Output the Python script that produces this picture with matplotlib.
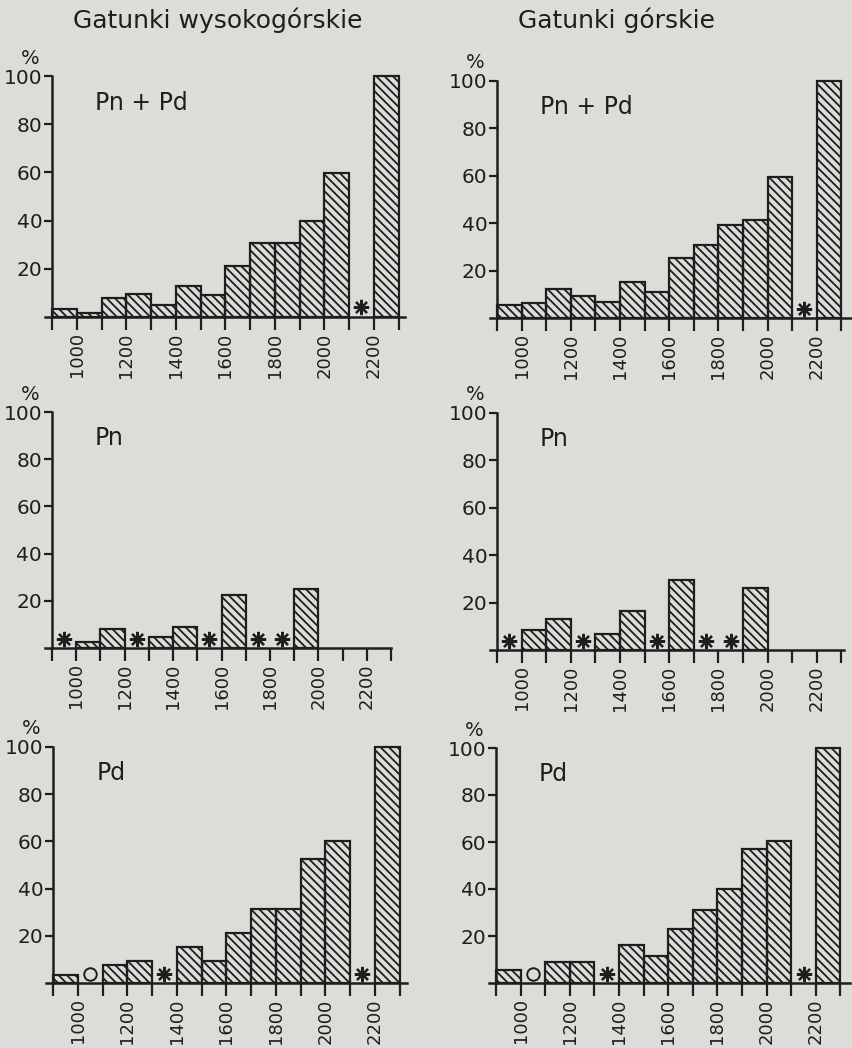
import numpy as np
import matplotlib
matplotlib.use('Agg')
import matplotlib.pyplot as plt

# altitude classes (bin start, m a.s.l.), 100 m wide
bins = [900, 1000, 1100, 1200, 1300, 1400, 1500, 1600, 1700, 1800, 1900, 2000, 2100, 2200]
tick_labels = [1000, 1200, 1400, 1600, 1800, 2000, 2200]

# percentages (None = no bar)
hw_all = [3.5, 1.8, 7.9, 9.7, 4.8, 12.7, 9.3, 21.2, 30.7, 30.7, 39.7, 59.6, None, 100]
g_all = [5.3, 6.5, 12.2, 9.4, 6.9, 15.2, 11.0, 25.2, 30.8, 39.2, 41.3, 59.5, None, 100]
hw_pn = [None, 2.5, 8.0, None, 4.6, 8.9, None, 22.4, None, None, 25.1, None, None, None]
g_pn = [None, 8.5, 13.0, None, 6.6, 16.6, None, 29.4, None, None, 26.0, None, None, None]
hw_pd = [3.2, None, 7.5, 9.3, None, 15.3, 9.3, 21.2, 31.5, 31.5, 52.7, 60.0, None, 100]
g_pd = [5.4, None, 8.8, 8.8, None, 16.2, 11.3, 23.0, 31.2, 40.0, 57.2, 60.4, None, 100]

# classes marked with an asterisk / an open circle
star_all = [2100]
star_pn = [900, 1200, 1500, 1700, 1800]
star_pd = [1300, 2100]
circle_pd = [1000]

col_titles = ['Gatunki wysokogórskie', 'Gatunki górskie']

bg = '#dcdcd9'
ink = '#1e1e1e'
plt.rcParams['hatch.linewidth'] = 1.3
plt.rcParams['hatch.color'] = ink
plt.rcParams['font.family'] = ['DejaVu Sans']

# back-diagonal hatch, more strokes -> denser pattern
HATCH = chr(92) * 4

W, H = 853, 1048
fig = plt.figure(figsize=(W / 100, H / 100), dpi=100, facecolor=bg)

# panel geometry in pixels: x of 900 m, px per 100 m, y of 0 %, y of 100 %, right end of axis
panels = [
    (52, 24.76, 317, 76, 2327, hw_all, 'Pn + Pd', star_all, []),
    (497, 24.6, 318, 81, 2345, g_all, 'Pn + Pd', star_all, []),
    (52, 24.76, 648, 412, 2270, hw_pn, 'Pn', star_pn, []),
    (497, 24.6, 650, 413, 2310, g_pn, 'Pn', star_pn, []),
    (53, 24.76, 983, 747, 2330, hw_pd, 'Pd', star_pd, circle_pd),
    (496, 24.6, 983, 748, 2340, g_pd, 'Pd', star_pd, circle_pd),
]
xmin = 873

for x0, bw, py0, py100, xmax, vals, name, stars, circles in panels:
    left = (x0 + (xmin - 900) * bw / 100) / W
    width = (xmax - xmin) * bw / 100 / W
    ax = fig.add_axes([left, (H - py0) / H, width, (py0 - py100) / H])
    ax.set_facecolor('none')
    ax.set_xlim(xmin, xmax)
    ax.set_ylim(0, 100)

    xs = [b for b, v in zip(bins, vals) if v is not None]
    hs = [v for v in vals if v is not None]
    ax.bar(xs, hs, width=100, align='edge', facecolor='none', edgecolor=ink,
           linewidth=1.6, hatch=HATCH, clip_on=False)

    ax.plot(np.array(stars) + 50, [4] * len(stars), linestyle='none',
            marker=(8, 2, 0), markersize=11, markeredgewidth=1.6, color=ink, clip_on=False)
    if circles:
        ax.plot(np.array(circles) + 50, [4] * len(circles), linestyle='none', marker='o',
                markersize=9, markerfacecolor='none', markeredgewidth=1.4, color=ink, clip_on=False)

    ax.text(1075, 89, name, fontsize=17, color=ink, va='center', ha='left')
    ax.annotate('%', xy=(900, 100), xytext=(-22, 18), textcoords='offset pixels',
                fontsize=14, color=ink, ha='center', va='center', annotation_clip=False)

    for s in ['top', 'right']:
        ax.spines[s].set_visible(False)
    ax.spines['left'].set_position(('data', 900))
    ax.spines['left'].set_bounds(0, 100)
    for s in ['left', 'bottom']:
        ax.spines[s].set_linewidth(1.8)
        ax.spines[s].set_color(ink)

    ax.set_yticks([20, 40, 60, 80, 100])
    ax.set_yticklabels(['20', '40', '60', '80', '100'])
    xt = list(range(900, 2400, 100))
    ax.set_xticks(xt)
    ax.set_xticklabels([str(t) if t in tick_labels else '' for t in xt], rotation=90)
    ax.tick_params(axis='y', direction='out', length=6, width=1.6, pad=1,
                   labelsize=14.5, colors=ink)
    ax.tick_params(axis='x', direction='out', length=9, width=1.6, pad=2,
                   labelsize=13, colors=ink)

fig.text(218 / W, 1 - 20 / H, col_titles[0], fontsize=18, color=ink, ha='center', va='center')
fig.text(617 / W, 1 - 20 / H, col_titles[1], fontsize=18, color=ink, ha='center', va='center')

fig.savefig('out.png', dpi=100, facecolor=bg)
